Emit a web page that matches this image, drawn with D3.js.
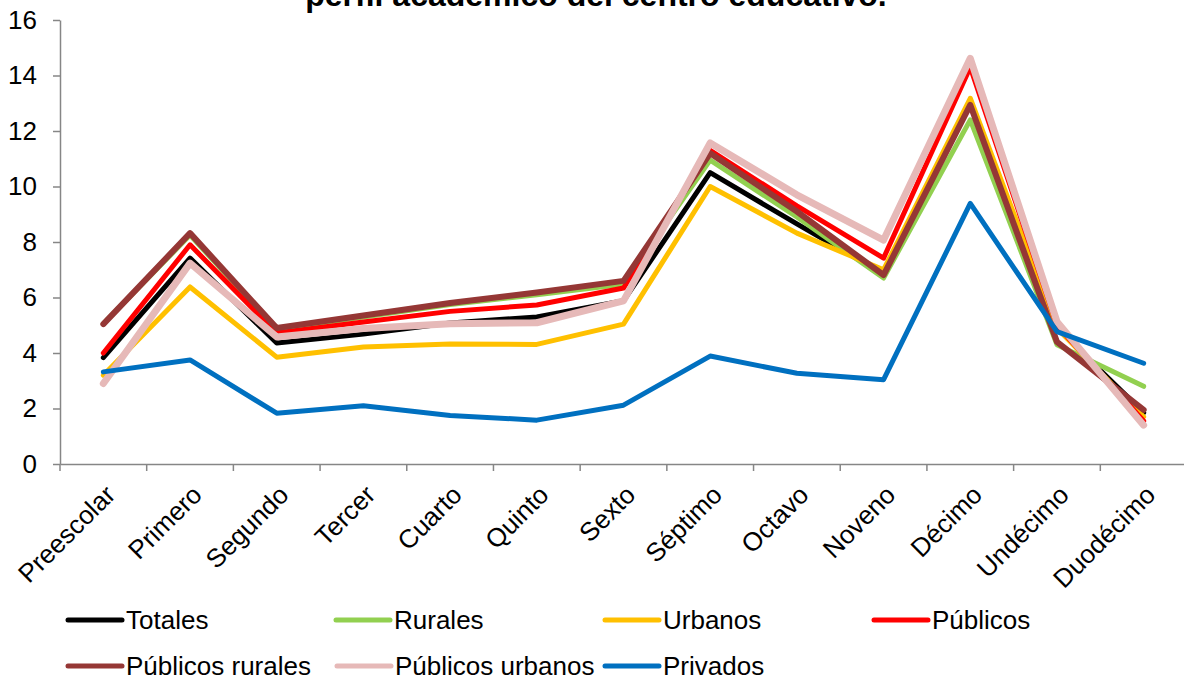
<!DOCTYPE html>
<html>
<head>
<meta charset="utf-8">
<script src="https://cdn.jsdelivr.net/npm/d3@7"></script>
<style>
html,body{margin:0;padding:0;background:#fff;}
svg{display:block;font-family:"Liberation Sans",Arial,sans-serif;}
</style>
</head>
<body>
<svg id="chart" width="1184" height="681"></svg>
<script>
const categories = ["Preescolar","Primero","Segundo","Tercer","Cuarto","Quinto","Sexto","Séptimo","Octavo","Noveno","Décimo","Undécimo","Duodécimo"];
const yTicks = [0,2,4,6,8,10,12,14,16];
const seriesNames = ["Totales","Rurales","Urbanos","Públicos","Públicos rurales","Públicos urbanos","Privados"];
const totales         = [3.83, 7.42, 4.36, 4.68, 5.08, 5.30, 5.88, 10.50, 8.65, 6.85, 13.00, 4.90, 1.85];
const rurales         = [5.05, 8.25, 4.85, 5.30, 5.75, 6.10, 6.48, 10.95, 8.90, 6.70, 12.40, 4.30, 2.80];
const urbanos         = [3.20, 6.38, 3.85, 4.22, 4.32, 4.31, 5.04, 10.00, 8.32, 7.00, 13.18, 4.90, 1.70];
const publicos        = [4.00, 7.90, 4.72, 5.12, 5.50, 5.73, 6.34, 11.30, 9.30, 7.42, 14.30, 5.00, 1.55];
const publicosRurales = [5.04, 8.32, 4.90, 5.35, 5.80, 6.18, 6.60, 11.20, 9.10, 6.81, 12.94, 4.40, 1.95];
const publicosUrbanos = [2.90, 7.24, 4.58, 4.88, 5.05, 5.09, 5.88, 11.57, 9.70, 8.07, 14.62, 5.13, 1.40];
const privados        = [3.32, 3.75, 1.83, 2.10, 1.75, 1.58, 2.12, 3.89, 3.27, 3.04, 9.39, 4.77, 3.63];
const colors = ["#000000","#92D050","#FFC000","#FF0000","#953735","#E6B9B8","#0070C0"];
const widths = [5,5,5,5,6,7,5];
const seriesValues = [totales, rurales, urbanos, publicos, publicosRurales, publicosUrbanos, privados];
const title = "perfil académico del centro educativo.";

const svg = d3.select("#chart");
const mLeft = 60, mRight = 1187, mTop = 20, mBottom = 464;
const x = d3.scaleBand().domain(categories).range([mLeft, mRight]).padding(0);
const y = d3.scaleLinear().domain([0,16]).range([mBottom, mTop]);
const axisColor = "#868686";
const fs = 26;

// title (cut off at top, as in the reference)
svg.append("text").attr("x", 596).attr("y", 6).attr("text-anchor","middle")
  .attr("font-weight","bold").attr("font-size", 32).attr("fill","#000").text(title);

// y axis
const ya = svg.append("g").attr("transform", `translate(${mLeft},0)`)
  .call(d3.axisLeft(y).tickValues(yTicks).tickSize(7).tickPadding(16).tickSizeOuter(0));
ya.selectAll("path,line").attr("stroke", axisColor).attr("stroke-width", 1.5);
ya.selectAll("text").attr("font-size", fs).attr("fill","#000").attr("font-family","Liberation Sans, Arial, sans-serif");

// x axis line and labels
const xa = svg.append("g").attr("transform", `translate(0,${mBottom})`)
  .call(d3.axisBottom(x).tickSize(0).tickPadding(0).tickSizeOuter(0));
xa.select("path").attr("stroke", axisColor).attr("stroke-width", 1.5);
xa.selectAll("text")
  .attr("font-size", fs).attr("fill","#000").attr("font-family","Liberation Sans, Arial, sans-serif")
  .attr("text-anchor","end").attr("dy", "0.35em").attr("y", 0).attr("x", 0)
  .attr("transform", "translate(7,26) rotate(-45)");
const bounds = categories.map(c => x(c)).concat([mRight]);
svg.append("g").selectAll("line").data(bounds).join("line")
  .attr("x1", d => d).attr("x2", d => d).attr("y1", mBottom).attr("y2", mBottom + 7)
  .attr("stroke", axisColor).attr("stroke-width", 1.5);

// lines
const line = d3.line().x((d,i) => x(categories[i]) + x.bandwidth()/2).y(d => y(d));
svg.append("g").selectAll("path").data(seriesValues).join("path")
  .attr("d", d => line(d)).attr("fill","none")
  .attr("stroke", (d,i) => colors[i]).attr("stroke-width", (d,i) => widths[i])
  .attr("stroke-linejoin","round").attr("stroke-linecap","round");

// legend
const legPos = [[68,620],[336,620],[605,620],[874,620],[68,666],[337,666],[605,666]];
const lg = svg.append("g").selectAll("g").data(seriesNames).join("g")
  .attr("transform", (d,i) => `translate(${legPos[i][0]},${legPos[i][1]})`);
lg.append("line").attr("x1",0).attr("x2",54).attr("y1",0).attr("y2",0)
  .attr("stroke",(d,i)=>colors[i]).attr("stroke-width",5).attr("stroke-linecap","round");
lg.append("text").attr("x",58).attr("y",0).attr("dy","0.35em").attr("font-size",fs)
  .attr("fill","#000").text(d => d);
</script>
</body>
</html>
